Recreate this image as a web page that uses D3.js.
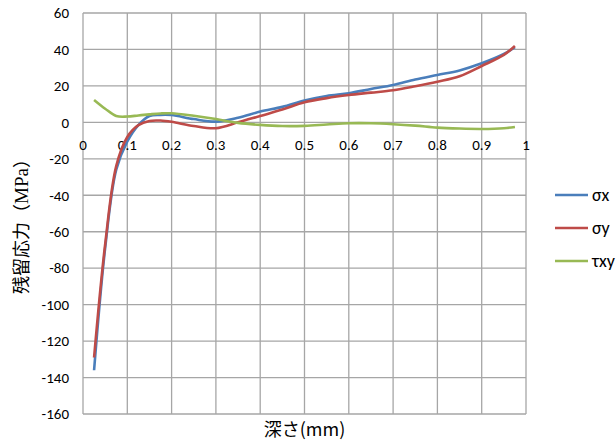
<!DOCTYPE html>
<html>
<head>
<meta charset="utf-8">
<title>残留応力</title>
<script src="https://cdn.jsdelivr.net/npm/d3@7"></script>
<style>
  body { margin: 0; background: #fff; }
  text { font-family: Carlito, Lato, "Noto Sans CJK JP", sans-serif; fill: #000; }
</style>
</head>
<body>
<div id="chart"></div>
<script>
// depth (mm) and stresses (MPa)
const depth  = [0.025, 0.05, 0.075, 0.1, 0.125, 0.15, 0.175, 0.2, 0.25, 0.3, 0.35, 0.4, 0.45, 0.5, 0.55, 0.6, 0.65, 0.7, 0.75, 0.8, 0.85, 0.9, 0.95, 0.975];
const sigmaX = [-136, -69, -26, -10.5, -1.5, 3.5, 4.1, 4, 1.8, 0.4, 2.5, 5.9, 8.5, 12, 14.5, 16, 18.3, 20.5, 23.5, 26, 28.5, 32.4, 37.5, 41.2];
const sigmaY = [-129, -67, -24, -8, -1.5, 0.8, 1.0, 0.3, -2, -3.2, 0, 3.5, 7, 11, 13.3, 15, 16.3, 17.6, 19.8, 22.3, 25.3, 30.9, 37, 41.9];
const tauXY  = [12.3, 7.5, 3.5, 3.2, 3.8, 4.4, 4.9, 5, 3.6, 1.8, -0.3, -1.4, -2, -1.9, -1.2, -0.5, -0.5, -1, -1.8, -2.9, -3.4, -3.6, -3.2, -2.5];

const seriesNames = ["σx", "σy", "τxy"];
const colors = ["#4a7ebb", "#be4b48", "#98b954"];
const xTicks = [0, 0.1, 0.2, 0.3, 0.4, 0.5, 0.6, 0.7, 0.8, 0.9, 1];
const yTicks = [60, 40, 20, 0, -20, -40, -60, -80, -100, -120, -140, -160];

const W = 616, H = 442;
const margin = {top: 13, right: 90, bottom: 28, left: 83};
const width = 526 - margin.left, height = 414 - margin.top;

const svg = d3.select("#chart").append("svg")
    .attr("width", W)
    .attr("height", H);

const g = svg.append("g")
    .attr("transform", "translate(" + margin.left + "," + margin.top + ")");

const x = d3.scaleLinear().domain([0, 1]).range([0, width]);
const y = d3.scaleLinear().domain([-160, 60]).range([height, 0]);

// grid
g.selectAll(".vgrid").data(xTicks).enter()
    .append("line")
    .attr("x1", d => x(d)).attr("x2", d => x(d))
    .attr("y1", 0).attr("y2", height)
    .style("stroke", "#a6a6a6").style("stroke-width", 1.3);

g.selectAll(".hgrid").data(yTicks).enter()
    .append("line")
    .attr("x1", 0).attr("x2", width)
    .attr("y1", d => y(d)).attr("y2", d => y(d))
    .style("stroke", "#a6a6a6").style("stroke-width", 1.3);

// y tick labels
g.selectAll(".ylab").data(yTicks).enter()
    .append("text")
    .attr("x", -14)
    .attr("y", d => y(d))
    .attr("dy", "0.35em")
    .attr("text-anchor", "end")
    .style("font-size", "15px")
    .text(d => d);

// x tick labels under the zero line
g.selectAll(".xlab").data(xTicks).enter()
    .append("text")
    .attr("x", d => x(d))
    .attr("y", y(0) + 28)
    .attr("text-anchor", "middle")
    .style("font-size", "15px")
    .text(d => d);

// lines
const series = [sigmaX, sigmaY, tauXY];
const line = d3.line()
    .x((d, i) => x(depth[i]))
    .y(d => y(d))
    .curve(d3.curveCatmullRom.alpha(0.5));

series.forEach(function(s, k) {
    g.append("path")
        .datum(s)
        .style("fill", "none")
        .style("stroke", colors[k])
        .style("stroke-width", 2.6)
        .attr("d", line);
});

// axis titles
const yTitle = svg.append("text")
    .attr("transform", "translate(28,222) rotate(-90)")
    .attr("text-anchor", "middle")
    .style("font-family", "'Noto Sans CJK JP', sans-serif")
    .style("font-size", "18px");
yTitle.append("tspan").text("残留応力（");
yTitle.append("tspan")
    .style("font-family", "'Liberation Serif', serif")
    .style("font-size", "19px")
    .text("MPa");
yTitle.append("tspan").text("）");

svg.append("text")
    .attr("x", margin.left + width / 2)
    .attr("y", 436)
    .attr("text-anchor", "middle")
    .style("font-family", "'Noto Sans CJK JP', sans-serif")
    .style("font-size", "18px")
    .text("深さ(mm)");

// legend
const legend = svg.append("g").attr("transform", "translate(555,195)");
seriesNames.forEach(function(name, k) {
    legend.append("line")
        .attr("x1", 0).attr("x2", 33)
        .attr("y1", k * 33).attr("y2", k * 33)
        .style("stroke", colors[k])
        .style("stroke-width", 2.6);
    legend.append("text")
        .attr("x", 37)
        .attr("y", k * 33)
        .attr("dy", "0.35em")
        .style("font-size", "18px")
        .text(name);
});
</script>
</body>
</html>
